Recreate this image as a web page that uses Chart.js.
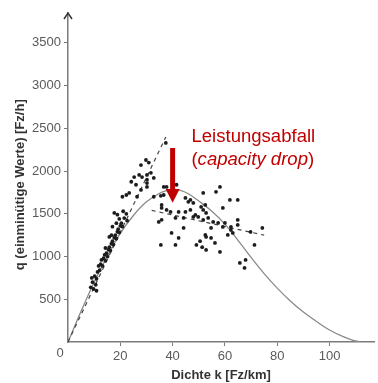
<!DOCTYPE html>
<html>
<head>
<meta charset="utf-8">
<script src="https://cdn.jsdelivr.net/npm/chart.js@4.4.0/dist/chart.umd.min.js"></script>
<style>
  html, body { margin: 0; padding: 0; background: #fff; }
  #wrap { width: 378px; height: 383px; }
</style>
</head>
<body>
<div id="wrap"><canvas id="fundamentalChart" width="378" height="383"></canvas></div>
<script>
// measured one-minute values: density k [Fz/km] and flow q [Fz/h]
const densityK = [
  8.7, 9.8, 10.6, 9.4, 9.1, 10.2, 10.9, 11.3, 12.1, 11.7, 12.5, 13.2, 12.8, 13.6, 14.3, 14.0, 14.7, 15.1, 15.5, 15.8,
  16.2, 16.6, 17.0, 17.4, 17.7, 18.1, 18.5, 18.9, 19.2, 19.6, 20.0, 20.4, 20.8, 17.7, 18.9, 18.5, 17.0, 16.6, 15.8, 14.3,
  10.9, 21.5, 22.3, 21.1, 19.6, 22.6,
  37.4, 29.8, 27.9, 30.9, 27.2, 28.3, 30.2, 31.7, 32.8, 30.2, 30.2, 24.2, 26.0, 27.9, 23.4, 30.2, 36.6, 37.7, 22.3, 20.8,
  26.4, 36.6, 25.3, 41.5, 32.8,
  35.5, 35.8, 34.7, 35.5, 39.6, 41.1, 42.3, 44.2, 39.2, 42.3, 44.9, 35.8, 46.8, 47.9, 49.8, 51.7, 41.1, 44.2, 49.1, 50.5,
  51.3, 52.8, 52.5, 46.0, 52.5, 51.7, 47.9, 58.1, 56.6, 61.9, 64.9, 59.2, 52.8, 53.6, 55.5, 57.4, 60.0, 64.9, 62.3, 64.9,
  74.3, 54.7, 59.2, 62.3, 63.0, 61.1, 69.8, 71.3, 52.8, 54.7, 56.2, 58.1, 67.9, 65.7, 67.5, 44.9, 46.8, 35.8, 37.7, 51.7,
  48.7, 50.9
];
const flowQ = [
  640, 620, 670, 700, 750, 770, 740, 820, 840, 890, 910, 890, 960, 980, 950, 1020, 1040, 1000, 1080, 1110,
  1070, 1150, 1180, 1140, 1220, 1250, 1210, 1290, 1320, 1280, 1360, 1390, 1350, 1510, 1490, 1390, 1350, 1250, 1230, 1100,
  600, 1450, 1500, 1530, 1440, 1420,
  2330, 2130, 2070, 2100, 1955, 1930, 1955, 1980, 1920, 1900, 1860, 1875, 1840, 1780, 1745, 1815, 1815, 1815, 1720, 1700,
  1700, 1720, 1930, 1840, 1700,
  1710, 1430, 1405, 1136, 1276, 1136, 1218, 1335, 1522, 1522, 1522, 1569, 1546, 1628, 1464, 1429, 1452, 1452, 1136, 1180,
  1110, 1077, 1253, 1640, 1604, 1546, 1464, 1815, 1757, 1663, 1663, 1569, 1510, 1452, 1405, 1393, 1393, 1429, 1347, 1370,
  1335, 1335, 1347, 1312, 1276, 1253, 1288, 1136, 1230, 1218, 1159, 1054, 960, 925, 867, 1686, 1663, 1604, 1546, 1745,
  1487, 1581
];

// fitted q-k relationship
const curveK = [0, 5, 10, 15, 20, 25, 30, 35, 38, 40, 43, 46, 50, 55, 60, 65, 70, 75, 80, 85, 90, 95, 100, 105, 109, 112];
const curveQ = [0, 360, 700, 1000, 1270, 1480, 1640, 1740, 1775, 1785, 1775, 1735, 1650, 1530, 1380, 1190, 990, 800, 630, 480, 350, 240, 140, 65, 20, 0];

// dashed regression lines
const freeFlowK = [0, 37.4];
const freeFlowQ = [0, 2400];
const congestedK = [32, 75];
const congestedQ = [1540, 1250];

const xTicks = [20, 40, 60, 80, 100];
const yTicks = [500, 1000, 1500, 2000, 2500, 3000, 3500];

// capacity drop arrow (data units)
const dropK = 40;
const dropFromQ = 2270;
const dropHeadQ = 1790;
const dropToQ = 1630;

const toPoints = (xs, ys) => xs.map((x, i) => ({ x: x, y: ys[i] }));

const fontFamily = "'Liberation Sans', Arial, sans-serif";
const axisGray = "#7a7a7a";
const labelGray = "#5a5a5a";
const dropRed = "#c00000";

const annotations = {
  id: "annotations",
  afterDraw(chart) {
    const ctx = chart.ctx;
    const xs = chart.scales.x;
    const ys = chart.scales.y;
    const area = chart.chartArea;
    ctx.save();

    // arrow head on the y axis
    ctx.strokeStyle = "#333";
    ctx.lineWidth = 1.5;
    ctx.beginPath();
    ctx.moveTo(area.left - 4, area.top + 6);
    ctx.lineTo(area.left, area.top);
    ctx.lineTo(area.left + 4, area.top + 6);
    ctx.stroke();

    // shared origin label
    ctx.fillStyle = labelGray;
    ctx.font = "13px " + fontFamily;
    ctx.textAlign = "center";
    ctx.textBaseline = "middle";
    ctx.fillText("0", area.left - 8, area.bottom + 11);

    // red capacity drop arrow
    const ax = xs.getPixelForValue(dropK);
    const yTop = ys.getPixelForValue(dropFromQ);
    const yHead = ys.getPixelForValue(dropHeadQ);
    const yTip = ys.getPixelForValue(dropToQ);
    ctx.fillStyle = dropRed;
    ctx.fillRect(ax - 2.5, yTop, 5, yHead - yTop + 1);
    ctx.beginPath();
    ctx.moveTo(ax - 7, yHead);
    ctx.lineTo(ax + 7, yHead);
    ctx.lineTo(ax, yTip);
    ctx.closePath();
    ctx.fill();

    // label, a little wider than the plain font like the original lettering
    const tx = xs.getPixelForValue(47.2);
    const ty1 = ys.getPixelForValue(2340);
    const ty2 = ty1 + 23;
    ctx.translate(tx, 0);
    ctx.scale(1.06, 1);
    ctx.textAlign = "left";
    ctx.textBaseline = "alphabetic";
    ctx.font = "17.5px " + fontFamily;
    ctx.fillText("Leistungsabfall", 0, ty1);
    let cx = 0;
    ctx.fillText("(", cx, ty2);
    cx += ctx.measureText("(").width;
    ctx.font = "italic 17.5px " + fontFamily;
    ctx.fillText("capacity drop", cx, ty2);
    cx += ctx.measureText("capacity drop").width;
    ctx.font = "17.5px " + fontFamily;
    ctx.fillText(")", cx, ty2);

    ctx.restore();
  }
};

new Chart(document.getElementById("fundamentalChart"), {
  type: "scatter",
  data: {
    datasets: [
      {
        label: "Messwerte",
        data: toPoints(densityK, flowQ),
        backgroundColor: "#1c1c1c",
        borderWidth: 0,
        pointRadius: 1.9,
        order: 1
      },
      {
        label: "q-k-Beziehung",
        type: "line",
        data: toPoints(curveK, curveQ),
        borderColor: "#8a8a8a",
        borderWidth: 1.3,
        pointRadius: 0,
        fill: false,
        tension: 0.4,
        order: 4
      },
      {
        label: "freier Verkehr",
        type: "line",
        data: toPoints(freeFlowK, freeFlowQ),
        borderColor: "#444",
        borderWidth: 1.2,
        borderDash: [4, 4],
        pointRadius: 0,
        fill: false,
        order: 3
      },
      {
        label: "gestauter Verkehr",
        type: "line",
        data: toPoints(congestedK, congestedQ),
        borderColor: "#444",
        borderWidth: 1.2,
        borderDash: [4, 4],
        pointRadius: 0,
        fill: false,
        order: 2
      }
    ]
  },
  options: {
    responsive: false,
    animation: false,
    devicePixelRatio: 1,
    layout: { padding: { top: 13, right: 0, left: 0, bottom: 0 } },
    plugins: {
      legend: { display: false },
      tooltip: { enabled: false }
    },
    scales: {
      x: {
        type: "linear",
        min: 0,
        max: 117,
        afterFit: scale => { scale.height = 41; },
        afterBuildTicks: scale => { scale.ticks = xTicks.map(v => ({ value: v })); },
        grid: { drawOnChartArea: false, drawTicks: true, tickLength: 4, color: axisGray },
        border: { color: axisGray, width: 1.5 },
        ticks: { color: labelGray, padding: 3, font: { size: 13, family: fontFamily }, maxRotation: 0, callback: v => String(v) },
        title: {
          display: true,
          text: "Dichte k [Fz/km]",
          color: "#333",
          padding: { top: 0, bottom: 0 },
          font: { size: 13, weight: "bold", family: fontFamily }
        }
      },
      y: {
        type: "linear",
        min: 0,
        max: 3850,
        afterFit: scale => { scale.width = 68; },
        afterBuildTicks: scale => { scale.ticks = yTicks.map(v => ({ value: v })); },
        grid: { drawOnChartArea: false, drawTicks: true, tickLength: 4, color: axisGray },
        border: { color: axisGray, width: 1.5 },
        ticks: { color: labelGray, padding: 3, font: { size: 13, family: fontFamily }, callback: v => String(v) },
        title: {
          display: true,
          text: "q (einminütige Werte) [Fz/h]    ",
          color: "#333",
          padding: { top: 13, bottom: 0 },
          font: { size: 13, weight: "bold", family: fontFamily }
        }
      }
    }
  },
  plugins: [annotations]
});
</script>
</body>
</html>
